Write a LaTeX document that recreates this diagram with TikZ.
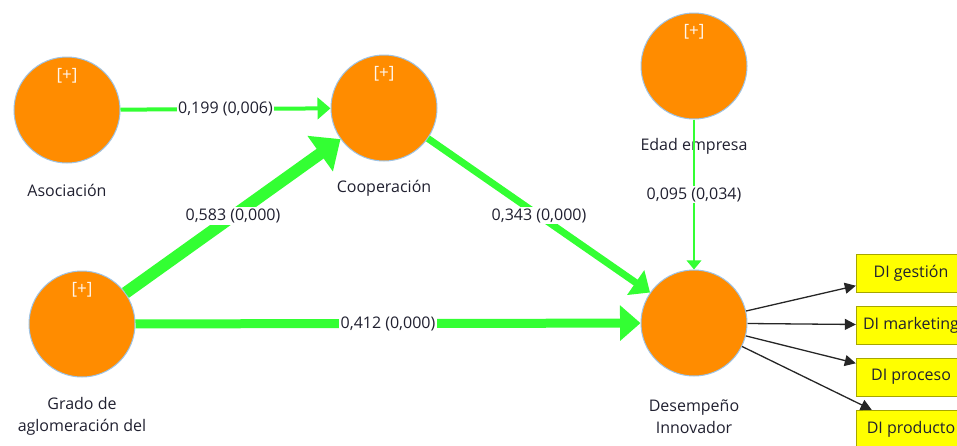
\documentclass[tikz,border=0pt]{standalone}
\usepackage{fontspec}
\setmainfont{Open Sans}
\usetikzlibrary{arrows.meta}
\definecolor{LvOrange}{HTML}{FF8C00}
\definecolor{LvBorder}{HTML}{9DC3E6}
\definecolor{PathGreen}{HTML}{33FF33}
\definecolor{IndYellow}{HTML}{FFFF00}
\definecolor{IndBorder}{HTML}{A6A600}
\definecolor{LabelInk}{HTML}{202030}
\tikzset{
  lvnode/.style={circle,draw=LvBorder,fill=LvOrange,line width=1pt,
    minimum size=106pt,inner sep=0pt},
  plusmark/.style={font=\fontsize{17}{19}\selectfont,text=white!92!orange,inner sep=0pt},
  lvtext/.style={font=\fontsize{16}{22}\selectfont,text=LabelInk,align=center,inner sep=0pt},
  indnode/.style={draw=IndBorder,fill=IndYellow,minimum width=110pt,minimum height=38pt,
    font=\fontsize{16}{20}\selectfont,text=LabelInk,inner sep=2pt},
  coef/.style={fill=white,font=\fontsize{16}{20}\selectfont,text=LabelInk,inner sep=1.5pt},
  pathE/.style={draw=PathGreen,line width=#1pt,-{Triangle[length=7pt 1.5,width=11pt 2.6]}},
  loadE/.style={draw=black!85,line width=1.3pt,-{Triangle[length=11pt,width=11pt]}},
}

\begin{document}
\begin{tikzpicture}[x=1pt,y=-1pt]
  \useasboundingbox (0,0) rectangle (957,445);
  \clip (0,0) rectangle (957,445);
  % latent variables
  \node[lvnode] (aso) at (67,110) {};
  \node[lvnode] (coo) at (384,108) {};
  \node[lvnode] (gra) at (82,324) {};
  \node[lvnode] (eda) at (694,66) {};
  \node[lvnode] (des) at (694,323) {};
  \node[plusmark] (asoP) at ([yshift=-19pt]aso.north) {[+]};
  \node[plusmark] (cooP) at ([yshift=-19pt]coo.north) {[+]};
  \node[plusmark] (graP) at ([yshift=-19pt]gra.north) {[+]};
  \node[plusmark] (edaP) at ([yshift=-19pt]eda.north) {[+]};
  \node[lvtext] (asoT) at (67,190) {Asociación};
  \node[lvtext] (cooT) at (384,188) {Cooperación};
  \node[lvtext] (edaT) at (694,146) {Edad empresa};
  \node[lvtext] (graT) at (82,416) {Grado de\\aglomeración del};
  \node[lvtext] (desT) at (694,417) {Desempeño\\Innovador};
  % indicators
  \node[indnode] (ges) at (911,273) {DI gestión};
  \node[indnode] (mar) at (911,325) {DI marketing};
  \node[indnode] (pro) at (911,377) {DI proceso};
  \node[indnode] (prd) at (911,429) {DI producto};
  % paths
  \draw[pathE=4] (aso) -- node[coef] {0,199 (0,006)} (coo);
  \draw[pathE=12] (gra) -- node[coef] {0,583 (0,000)} (coo);
  \draw[pathE=7] (coo) -- node[coef] {0,343 (0,000)} (des);
  \draw[pathE=9] (gra) -- node[coef] {0,412 (0,000)} (des);
  \draw[pathE=1.5] (eda) -- node[coef] {0,095 (0,034)} (des);
  \foreach \ind in {ges,mar,pro,prd}
    \draw[loadE] (des) -- (\ind);
\end{tikzpicture}
\end{document}
